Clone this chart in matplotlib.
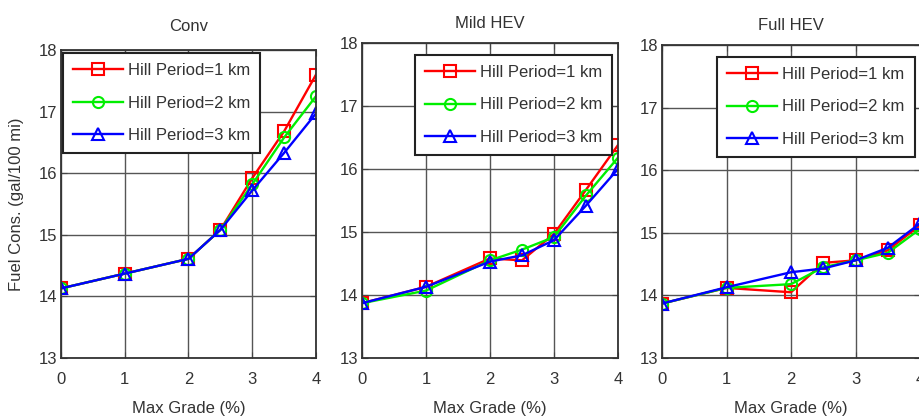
import matplotlib
matplotlib.use("Agg")
import matplotlib.pyplot as plt

plt.rcParams['font.family'] = ['Liberation Sans', 'DejaVu Sans']

# ---- data ----
max_grade = [0, 1, 2, 2.5, 3, 3.5, 4]
series_labels = ["Hill Period=1 km", "Hill Period=2 km", "Hill Period=3 km"]
panel_titles = ["Conv", "Mild HEV", "Full HEV"]
x_ticks = [0, 1, 2, 3, 4]
y_ticks = [13, 14, 15, 16, 17, 18]

conv_1km = [14.13, 14.37, 14.61, 15.08, 15.92, 16.68, 17.60]
conv_2km = [14.13, 14.37, 14.61, 15.08, 15.82, 16.58, 17.25]
conv_3km = [14.13, 14.37, 14.61, 15.08, 15.72, 16.33, 16.97]

mild_1km = [13.87, 14.13, 14.58, 14.55, 14.97, 15.67, 16.38]
mild_2km = [13.87, 14.07, 14.55, 14.72, 14.92, 15.58, 16.18]
mild_3km = [13.87, 14.13, 14.53, 14.63, 14.87, 15.42, 16.00]

full_1km = [13.87, 14.12, 14.05, 14.52, 14.56, 14.72, 15.12]
full_2km = [13.87, 14.12, 14.18, 14.45, 14.56, 14.68, 15.06]
full_3km = [13.87, 14.13, 14.37, 14.43, 14.56, 14.76, 15.15]

panels = [
    [conv_1km, conv_2km, conv_3km],
    [mild_1km, mild_2km, mild_3km],
    [full_1km, full_2km, full_3km],
]

# ---- style ----
W, H = 919, 419
colors = ["#ff0000", "#00ee00", "#0000ff"]
markers = ["s", "o", "^"]
txt = "#333333"

# axes pixel boxes: (left, right, top, bottom)
boxes = [(61, 316, 50, 358), (362, 618, 43, 358), (662, 920, 45, 358)]
legend_anchor = [("upper left", (0.008, 0.99)),
                 ("upper right", (0.977, 0.962)),
                 ("upper right", (0.98, 0.962))]
title_pad = [14, 11, 11]

fig = plt.figure(figsize=(W / 100, H / 100), dpi=100)

for i, (l, r, t, b) in enumerate(boxes):
    ax = fig.add_axes([l / W, (H - b) / H, (r - l) / W, (b - t) / H])
    for data, c, m, lab in zip(panels[i], colors, markers, series_labels):
        ax.plot(max_grade, data, color=c, marker=m, markersize=8,
                markerfacecolor="none", markeredgecolor=c, markeredgewidth=1.5,
                linewidth=1.7, label=lab)
    ax.set_xlim(0, 4)
    ax.set_ylim(13, 18)
    ax.set_xticks(x_ticks)
    ax.set_yticks(y_ticks)
    ax.grid(True, color="#555555", linewidth=1.0, linestyle="-")
    ax.set_axisbelow(True)
    ax.tick_params(direction="in", top=True, right=True, length=4,
                   labelsize=12, labelcolor=txt, color="#444444", pad=3)
    ax.tick_params(axis="x", pad=10)
    for s in ax.spines.values():
        s.set_color("#333333")
        s.set_linewidth(1.3)
    ax.set_title(panel_titles[i], fontsize=12, color=txt, pad=title_pad[i])
    ax.set_xlabel("Max Grade (%)", fontsize=12, color=txt, labelpad=10)
    if i == 0:
        ax.set_ylabel("Fuel Cons. (gal/100 mi)", fontsize=12, color=txt, labelpad=10)
    loc, anchor = legend_anchor[i]
    leg = ax.legend(loc=loc, bbox_to_anchor=anchor, borderaxespad=0,
                    fontsize=12, handlelength=3.0, labelspacing=1.05,
                    handletextpad=0.3, borderpad=0.6, fancybox=False,
                    framealpha=1, edgecolor="#222222")
    leg.get_frame().set_linewidth(1.5)
    for tx in leg.get_texts():
        tx.set_color(txt)

fig.savefig("out.png", dpi=100)
